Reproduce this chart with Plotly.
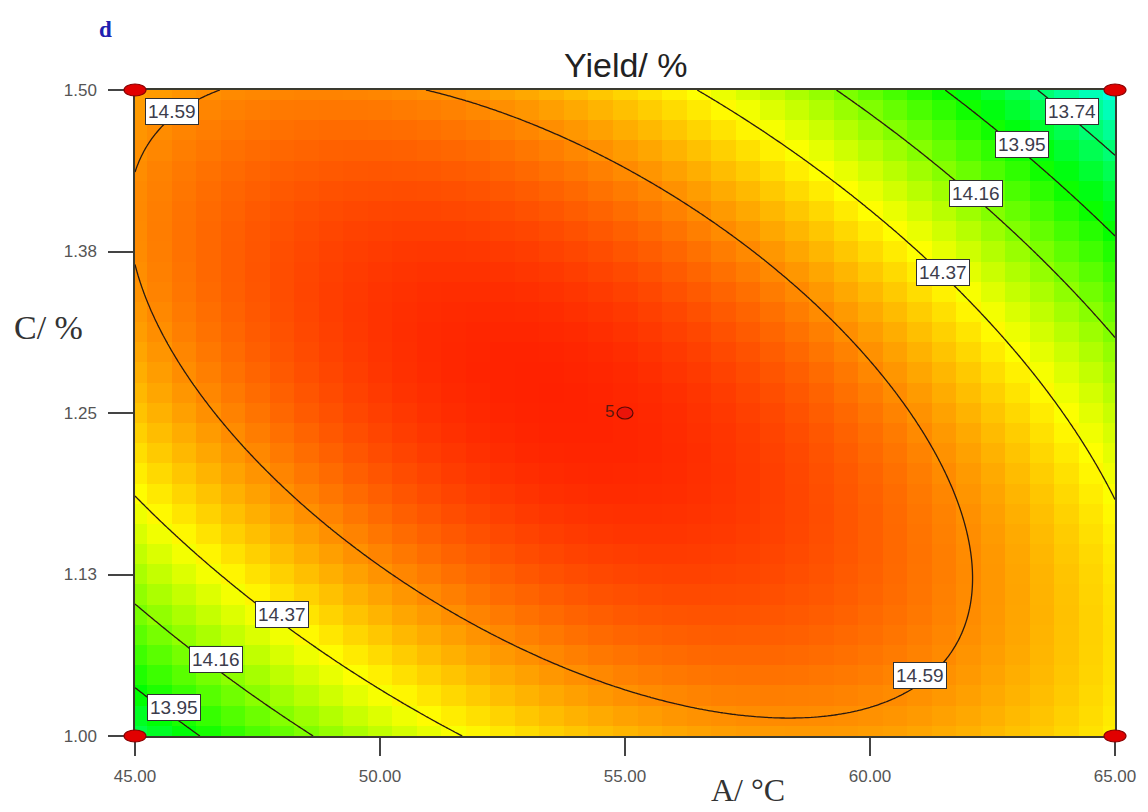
import numpy as np
import plotly.graph_objects as go

# ---- Data -------------------------------------------------------------
# Factor ranges in actual units
temp_range = [45.0, 65.0]   # A / °C
conc_range = [1.00, 1.50]   # C / %

# Quadratic model in coded units (-1 .. +1):
# Yield = b0 + b1*A + b2*C + b12*A*C + b11*A^2 + b22*C^2
b0, b1, b2, b12, b11, b22 = 14.789, -0.104, -0.030, -0.399, -0.408, -0.306

# Contour levels drawn on the surface
contour_levels = [13.74, 13.95, 14.16, 14.37, 14.59]

# Design points (factorial corners + centre point with 5 replicates)
design_A = [45.0, 45.0, 65.0, 65.0, 55.0]
design_C = [1.00, 1.50, 1.00, 1.50, 1.25]
design_reps = [1, 1, 1, 1, 5]

# Axis ticks
x_tickvals = [45, 50, 55, 60, 65]
x_ticktext = ["45.00", "50.00", "55.00", "60.00", "65.00"]
y_tickvals = [1.0, 1.125, 1.25, 1.375, 1.5]
y_ticktext = ["1.00", "1.13", "1.25", "1.38", "1.50"]

# Contour label anchors: level and (A, C) position on the line
label_level = [14.59, 14.59, 14.37, 14.16, 13.95, 13.74, 14.37, 14.16, 13.95]
label_A = [45.75, 61.02, 61.49, 62.16, 63.11, 64.13, 48.01, 46.66, 45.79]
label_C = [1.483, 1.047, 1.359, 1.420, 1.458, 1.483, 1.094, 1.059, 1.022]

# Colour map anchors: blue -> cyan -> green -> yellow -> red
cmap_values = [13.04, 13.48, 13.93, 14.37, 14.86]
cmap_colors = ["rgb(0,0,255)", "rgb(0,255,255)", "rgb(0,255,0)",
               "rgb(255,255,0)", "rgb(255,0,0)"]


# ---- Model evaluation ---------------------------------------------------
def yield_model(A, C):
    a = (np.asarray(A) - 55.0) / 10.0
    c = (np.asarray(C) - 1.25) / 0.25
    return b0 + b1 * a + b2 * c + b12 * a * c + b11 * a ** 2 + b22 * c ** 2


# coarse grid for the shaded surface (blocky look)
hx = np.linspace(temp_range[0], temp_range[1], 41)
hy = np.linspace(conc_range[0], conc_range[1], 33)
HX, HY = np.meshgrid(hx, hy)
HZ = yield_model(HX, HY)

# fine grid for smooth contour lines
cx = np.linspace(temp_range[0], temp_range[1], 301)
cy = np.linspace(conc_range[0], conc_range[1], 301)
CX, CY = np.meshgrid(cx, cy)
CZ = yield_model(CX, CY)

zmin, zmax = cmap_values[0], cmap_values[-1]
colorscale = [[(v - zmin) / (zmax - zmin), col] for v, col in zip(cmap_values, cmap_colors)]

fig = go.Figure()

fig.add_trace(go.Heatmap(
    x=hx, y=hy, z=HZ, zmin=zmin, zmax=zmax, colorscale=colorscale,
    zsmooth=False, showscale=False, hoverinfo="skip",
))

for lv in contour_levels:
    fig.add_trace(go.Contour(
        x=cx, y=cy, z=CZ, showscale=False, hoverinfo="skip",
        contours=dict(start=lv, end=lv + 0.001, size=1.0, coloring="none",
                      showlabels=False),
        line=dict(color="#2a1a10", width=1.3),
        autocontour=False,
    ))

font_sans = "Liberation Sans, Arial, sans-serif"
font_serif = "Liberation Serif, Times New Roman, serif"

# contour value labels in white boxes
annotations = []
for lv, la, lc in zip(label_level, label_A, label_C):
    annotations.append(dict(
        x=la, y=lc, xref="x", yref="y",
        text=f"{lv:.2f}", showarrow=False,
        font=dict(family=font_sans, size=19, color="#3c3c4c"),
        bgcolor="white", bordercolor="#303030", borderwidth=1, borderpad=2,
    ))

# replicate count next to the centre point
for A, C, n in zip(design_A, design_C, design_reps):
    if n > 1:
        annotations.append(dict(
            x=A, y=C, xref="x", yref="y", text=str(n), showarrow=False,
            xanchor="right", xshift=-9, yshift=2,
            font=dict(family=font_sans, size=17, color="#5a1a10"),
        ))

# titles
annotations += [
    dict(x=0.5, y=1 + 25 / 646, xref="paper", yref="paper", text="Yield/ %",
         xanchor="center", yanchor="middle", showarrow=False,
         font=dict(family=font_sans, size=34, color="#222222")),
    dict(x=-30 / 985, y=1 + 61 / 646, xref="paper", yref="paper", text="<b>d</b>",
         xanchor="center", yanchor="middle", showarrow=False,
         font=dict(family=font_serif, size=23, color="#2020b0")),
    dict(x=616 / 985, y=-54 / 646, xref="paper", yref="paper", text="A/ °C",
         xanchor="center", yanchor="middle", showarrow=False,
         font=dict(family=font_serif, size=32, color="#333333")),
    dict(x=-87 / 985, y=409 / 646, xref="paper", yref="paper", text="C/ %",
         xanchor="center", yanchor="middle", showarrow=False,
         font=dict(family=font_serif, size=34, color="#333333")),
]

# design point markers: ellipses sized in pixels, anchored at the design
# points through the axis ranges (paper refs keep them unclipped)
shapes = []
for A, C, n in zip(design_A, design_C, design_reps):
    px = (A - temp_range[0]) / (temp_range[1] - temp_range[0])
    py = (C - conc_range[0]) / (conc_range[1] - conc_range[0])
    if n > 1:
        w, h, fill, edge = 8, 6, "rgb(235,20,10)", "#5a0a05"
    else:
        w, h, fill, edge = 11, 6, "rgb(225,0,0)", "#8a0000"
    shapes.append(dict(
        type="circle", xref="paper", yref="paper", xsizemode="pixel", ysizemode="pixel",
        xanchor=px, yanchor=py, x0=-w, x1=w, y0=-h, y1=h,
        fillcolor=fill, line=dict(color=edge, width=1.2), layer="above",
    ))

axis_common = dict(
    showgrid=False, zeroline=False, showline=True, mirror=True,
    linecolor="#3a3a30", linewidth=1.5, ticks="outside", tickcolor="#444444",
    tickwidth=1.5, tickfont=dict(family=font_sans, size=17, color="#555555"),
)

fig.update_layout(
    width=1148, height=812,
    margin=dict(l=135, r=28, t=90, b=76),
    paper_bgcolor="white", plot_bgcolor="white",
    showlegend=False,
    xaxis=dict(range=temp_range, tickvals=x_tickvals, ticktext=x_ticktext,
               ticklen=18, ticklabelstandoff=6, **axis_common),
    yaxis=dict(range=conc_range, tickvals=y_tickvals, ticktext=y_ticktext,
               ticklen=25, ticklabelstandoff=8, **axis_common),
    annotations=annotations,
    shapes=shapes,
)

fig.write_html("out.html")
